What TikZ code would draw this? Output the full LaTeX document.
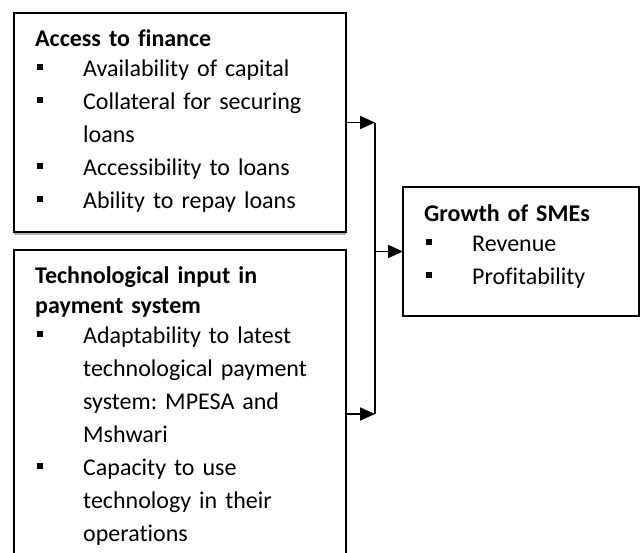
\documentclass[tikz,border=0pt]{standalone}
\usepackage{fontspec}
\setmainfont[RawFeature=-liga]{Carlito}
\usetikzlibrary{arrows.meta, positioning}

% square bullet and hanging indent for list lines
\newcommand{\sqbullet}{\makebox[48pt][l]{\hspace{1.5pt}\rule[6.5pt]{6pt}{6pt}}}
\newcommand{\hangline}{\hspace*{48pt}}
\frenchspacing

\begin{document}
\begin{tikzpicture}[x=1pt, y=-1pt, node distance = 18pt,
    factor/.style = {draw, line width=1.6pt, inner sep=0pt, outer sep=0pt},
    factortext/.style = {anchor=base west, inner sep=0pt, text width=300pt,
                         align=left, font=\fontsize{24}{33}\selectfont},
    arr/.style = {line width=1.6pt, -{Triangle[length=15pt, width=13pt]}}]
  \useasboundingbox (0,0) rectangle (640,552);
  \clip (0,0) rectangle (640,552);

  % boxes
  \node[factor, minimum width=332pt, minimum height=219pt] (fin) at (180,122.5) {};
  \node[factor, minimum width=332pt, minimum height=328pt, below=of fin] (tech) {};
  \node[factor, minimum width=236pt, minimum height=129pt] (growth) at (521,251.5) {};
  \draw[gray!60, line width=1.2pt] ([yshift=-2pt]fin.south west) -- ([yshift=-2pt]fin.south east);

  % box contents
  \node[factortext] (fintxt) at ([xshift=21pt, yshift=-33pt]fin.north west)
    {\textbf{Access to finance}\\[-3pt]
     \sqbullet Availability of capital\\
     \sqbullet Collateral for securing\\
     \hangline loans\\
     \sqbullet Accessibility to loans\\
     \sqbullet Ability to repay loans};
  \node[factortext] (techtxt) at ([xshift=21pt, yshift=-33pt]tech.north west)
    {\textbf{Technological input in}\\[-3pt]
     \textbf{payment system}\\[-3pt]
     \sqbullet Adaptability to latest\\
     \hangline technological payment\\
     \hangline system: MPESA and\\
     \hangline Mshwari\\
     \sqbullet Capacity to use\\
     \hangline technology in their\\
     \hangline operations};
  \node[factortext] (growthtxt) at ([xshift=21pt, yshift=-34pt]growth.north west)
    {\textbf{Growth of SMEs}\\[-3pt]
     \sqbullet Revenue\\
     \sqbullet Profitability};

  % connectors
  \coordinate[right=29pt of fin.east] (bustop);
  \coordinate[right=29pt of tech.east] (busbot);
  \draw[arr] (fin) -- (bustop);
  \draw[arr] (tech) -- (busbot);
  \draw[line width=1.6pt] (bustop) -- (busbot);
  \draw[arr] (bustop |- growth) -- (growth);
\end{tikzpicture}
\end{document}
